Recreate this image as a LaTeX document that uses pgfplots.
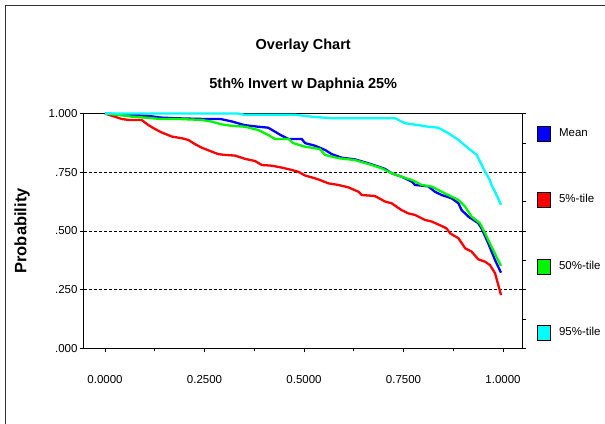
\documentclass[border=0pt]{standalone}
\usepackage{pgfplots}
\pgfplotsset{compat=1.18}
\usepackage{fontspec}
\setmainfont{Liberation Sans}
\definecolor{cBlue}{RGB}{0,0,255}
\definecolor{cRed}{RGB}{255,0,0}
\definecolor{cGreen}{RGB}{0,245,0}
\definecolor{cCyan}{RGB}{0,255,255}
\begin{document}
\begin{tikzpicture}[x=1pt,y=1pt]
\useasboundingbox (0,0) rectangle (605,423);
\draw[line width=1pt,black!80] (5,-5) -- (5,417) -- (620,417);
\begin{axis}[
  at={(84pt,74.7pt)}, anchor=south west,
  scale only axis, width=438.5pt, height=234.7pt,
  xmin=-0.0528, xmax=1.049, ymin=0, ymax=1,
  axis line style={line width=1pt},
  tick align=outside,
  major tick length=4pt, minor tick length=3pt,
  tick style={black, line width=0.8pt},
  xtick={0,0.25,0.5,0.75,1},
  minor xtick={0.125,0.375,0.625,0.875},
  xtick pos=bottom,
  ytick={0,0.25,0.5,0.75,1},
  yticklabels={.000,.250,.500,.750,1.000},
  ytick pos=left,
  xticklabel={\pgfmathprintnumber[fixed,fixed zerofill,precision=4]{\tick}},
  /pgf/number format/assume math mode=true,
  tick label style={font=\fontsize{11.5}{13}\selectfont},
  xticklabel style={yshift=-20pt},
  yticklabel style={xshift=1pt},
  ymajorgrids,
  major grid style={black, dash pattern=on 3pt off 2pt, line width=0.8pt},
  ylabel={\textbf{Probability}},
  ylabel style={at={(axis description cs:-0.141,0.5)}, anchor=center, font=\fontsize{16.5}{18}\selectfont},
  legend style={at={(axis description cs:1,1)}, anchor=north west, xshift=14pt, yshift=-12pt,
    draw=none, fill=none, inner sep=0pt, row sep=51pt, font=\fontsize{11.5}{13}\selectfont,
    cells={anchor=west}},
  legend image code/.code={\draw[#1, draw=black, line width=0.5pt, fill] (0pt,-8pt) rectangle (13pt,7pt); \path (19pt,0pt);},
  every axis plot/.append style={line width=2.3pt},
  clip=false,
]
\addplot[cBlue] coordinates {
(0,1.0) (0.06,0.995) (0.11,0.99) (0.14,0.983) (0.18,0.98) (0.25,0.977) (0.29,0.977)
(0.32,0.966) (0.35,0.951) (0.385,0.944) (0.41,0.94) (0.427,0.923) (0.444,0.906)
(0.461,0.892) (0.494,0.892) (0.503,0.874) (0.528,0.863) (0.553,0.845) (0.570,0.827)
(0.595,0.812) (0.628,0.805) (0.662,0.788) (0.687,0.774) (0.704,0.764) (0.720,0.746)
(0.745,0.731) (0.771,0.710) (0.779,0.696) (0.812,0.690) (0.829,0.667) (0.846,0.653)
(0.871,0.639) (0.888,0.618) (0.896,0.589) (0.913,0.561) (0.938,0.533) (0.946,0.511)
(0.963,0.447) (0.980,0.376) (0.995,0.322)};
\addlegendentry{Mean}
\addplot[cRed] coordinates {
(0,1.0) (0.017,0.991) (0.042,0.977) (0.059,0.973) (0.092,0.973) (0.109,0.951) (0.126,0.934)
(0.142,0.920) (0.168,0.902) (0.193,0.895) (0.209,0.888) (0.226,0.870) (0.243,0.855)
(0.268,0.838) (0.285,0.827) (0.302,0.824) (0.327,0.821) (0.352,0.807) (0.377,0.798)
(0.394,0.781) (0.419,0.778) (0.444,0.770) (0.469,0.760) (0.486,0.752) (0.503,0.736)
(0.528,0.724) (0.540,0.717) (0.561,0.703) (0.586,0.696) (0.611,0.686) (0.637,0.667)
(0.645,0.653) (0.678,0.649) (0.704,0.625) (0.720,0.618) (0.745,0.589) (0.762,0.575)
(0.779,0.568) (0.804,0.547) (0.821,0.540) (0.846,0.521) (0.858,0.511) (0.867,0.490)
(0.888,0.469) (0.905,0.426) (0.921,0.412) (0.938,0.379) (0.955,0.369) (0.967,0.355)
(0.980,0.320) (0.987,0.277) (0.995,0.227)};
\addlegendentry{5\%-tile}
\addplot[cGreen] coordinates {
(0,1.0) (0.03,0.995) (0.067,0.987) (0.10,0.983) (0.14,0.977) (0.184,0.977) (0.243,0.973)
(0.268,0.966) (0.293,0.954) (0.318,0.948) (0.352,0.944) (0.385,0.930) (0.41,0.909)
(0.427,0.892) (0.461,0.892) (0.473,0.874) (0.503,0.859) (0.540,0.849) (0.553,0.824)
(0.586,0.810) (0.628,0.802) (0.670,0.781) (0.695,0.767) (0.720,0.746) (0.745,0.731)
(0.771,0.717) (0.796,0.696) (0.821,0.689) (0.854,0.660) (0.888,0.632) (0.905,0.603)
(0.921,0.561) (0.942,0.533) (0.955,0.490) (0.971,0.433) (0.995,0.351)};
\addlegendentry{50\%-tile}
\addplot[cCyan] coordinates {
(0,1.0) (0.335,1.0) (0.35,0.995) (0.477,0.995) (0.519,0.987) (0.570,0.980) (0.729,0.980)
(0.754,0.959) (0.787,0.951) (0.812,0.944) (0.837,0.940) (0.863,0.916) (0.888,0.888)
(0.913,0.852) (0.934,0.824) (0.955,0.752) (0.967,0.717) (0.971,0.696) (0.980,0.667)
(0.995,0.611)};
\addlegendentry{95\%-tile}
\node[font=\fontsize{14.5}{16}\selectfont\bfseries] at (axis description cs:0.5,1.288) {Overlay Chart};
\node[font=\fontsize{14.5}{16}\selectfont\bfseries] at (axis description cs:0.5,1.122) {5th\% Invert w Daphnia 25\%};
\end{axis}
\begin{axis}[
  at={(84pt,74.7pt)}, anchor=south west,
  scale only axis, width=438.5pt, height=234.7pt,
  xmin=-0.0528, xmax=1.049, ymin=0, ymax=1,
  hide x axis,
  axis y line*=right,
  axis line style={line width=1pt},
  tick align=outside,
  major tick length=3pt,
  tick style={black, line width=0.8pt},
  ytick={0,0.125,0.25,0.375,0.5,0.625,0.75,0.875,1},
  yticklabels={},
]
\end{axis}
\end{tikzpicture}
\end{document}
